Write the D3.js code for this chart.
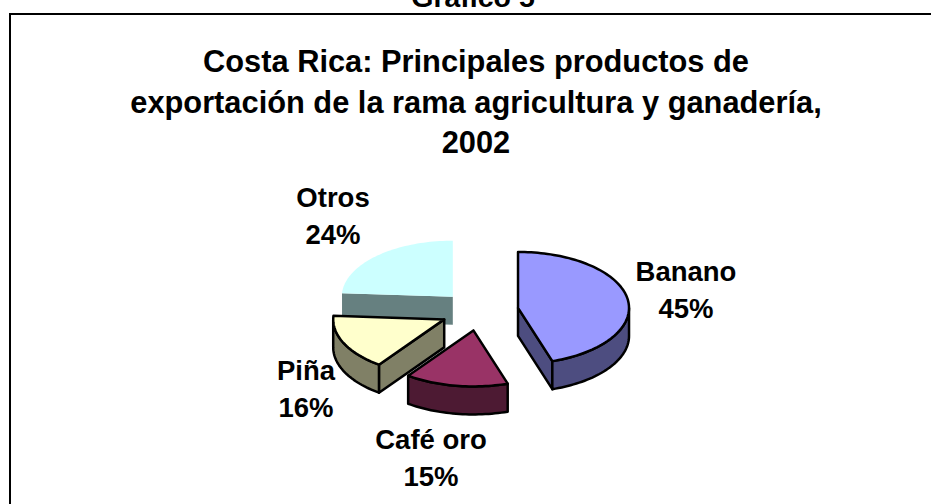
<!DOCTYPE html>
<html>
<head>
<meta charset="utf-8">
<script src="https://cdn.jsdelivr.net/npm/d3@7/dist/d3.min.js"></script>
<style>
  html, body { margin: 0; padding: 0; background: #fff; overflow: hidden; }
  text { font-family: "Liberation Sans", Arial, sans-serif; font-weight: bold; fill: #000; }
</style>
</head>
<body>
<div id="chart"></div>
<script>
var categories = ["Banano", "Café oro", "Piña", "Otros"];
var shares = [45, 15, 16, 24];
var topColors = ["#9999ff", "#993366", "#ffffcc", "#ccffff"];
var wallColors = ["#4d4d80", "#4d1a33", "#808066", "#668080"];
var titleLines = ["Costa Rica: Principales productos de", "exportación de la rama agricultura y ganadería,", "2002"];
var heading = "Gráfico 5";

var width = 931, height = 504;
var rx = 111, ry = 56, depth = 28, explode = 39;
var cx = 479.5, cy = 311;
var labelPos = [[686, 272], [431, 440], [306, 371], [333, 198]];

var svg = d3.select("#chart").append("svg")
    .attr("width", width)
    .attr("height", height);

// frame runs off the right and bottom of the page
svg.append("rect")
    .attr("x", 10).attr("y", 14)
    .attr("width", 940).attr("height", 510)
    .attr("fill", "#fff")
    .attr("stroke", "#000")
    .attr("stroke-width", 2);

svg.append("text")
    .attr("x", 473).attr("y", 7)
    .attr("text-anchor", "middle")
    .style("font-size", "28.5px")
    .text(heading);

svg.selectAll(".title").data(titleLines).enter().append("text")
    .attr("class", "title")
    .attr("x", 476)
    .attr("y", function(d, i) { return 72 + i * 40.5; })
    .attr("text-anchor", "middle")
    .style("font-size", "30.8px")
    .text(function(d) { return d; });

var pie = d3.pie().sort(null);
var slices = pie(shares);

function rimPoint(a) {
    return [rx * Math.sin(a), -ry * Math.cos(a)];
}

function rimPoints(a0, a1, dy) {
    var n = Math.max(2, Math.ceil((a1 - a0) / 0.03));
    return d3.range(n + 1).map(function(i) {
        var p = rimPoint(a0 + (a1 - a0) * i / n);
        return [p[0], p[1] + dy];
    });
}

var line = d3.line();

function wallPaths(s) {
    var out = [];
    var lo = Math.max(s.startAngle, Math.PI / 2);
    var hi = Math.min(s.endAngle, 3 * Math.PI / 2);
    // cut faces, only the ones turned to the viewer
    [[s.startAngle, Math.sin(s.startAngle) < -1e-6], [s.endAngle, Math.sin(s.endAngle) > 1e-6]].forEach(function(w) {
        if (!w[1]) return;
        var p = rimPoint(w[0]);
        out.push(line([[0, 0], p, [p[0], p[1] + depth], [0, depth]]) + "Z");
    });
    if (hi > lo) {
        var top = rimPoints(lo, hi, 0);
        var bottom = rimPoints(lo, hi, depth).reverse();
        out.push(line(top.concat(bottom)) + "Z");
    }
    return out;
}

function topPath(s) {
    return line([[0, 0]].concat(rimPoints(s.startAngle, s.endAngle, 0))) + "Z";
}

// back slices first
var order = [3, 2, 1, 0];
var groups = svg.selectAll(".slice").data(order).enter().append("g")
    .attr("class", "slice")
    .attr("transform", function(i) {
        var mid = (slices[i].startAngle + slices[i].endAngle) / 2;
        var x = cx + explode * Math.sin(mid);
        var y = cy - explode * ry / rx * Math.cos(mid);
        return "translate(" + x + "," + y + ")";
    })
    .attr("stroke", function(i) { return categories[i] === "Otros" ? "none" : "#000"; })
    .attr("stroke-width", 2.5)
    .attr("stroke-linejoin", "round");

groups.selectAll(".wall").data(function(i) {
        return wallPaths(slices[i]).map(function(d) { return { d: d, i: i }; });
    }).enter().append("path")
    .attr("class", "wall")
    .attr("d", function(w) { return w.d; })
    .attr("fill", function(w) { return wallColors[w.i]; });

groups.append("path")
    .attr("class", "top")
    .attr("d", function(i) { return topPath(slices[i]); })
    .attr("fill", function(i) { return topColors[i]; });

var labels = svg.selectAll(".label").data(categories).enter().append("text")
    .attr("class", "label")
    .attr("text-anchor", "middle")
    .attr("transform", function(d, i) { return "translate(" + labelPos[i][0] + "," + labelPos[i][1] + ")"; })
    .style("font-size", "27.5px");

labels.append("tspan")
    .attr("x", 0).attr("y", 9)
    .text(function(d) { return d; });

labels.append("tspan")
    .attr("x", 0).attr("y", 46)
    .text(function(d, i) { return d3.format(".0f")(shares[i]) + "%"; });
</script>
</body>
</html>
